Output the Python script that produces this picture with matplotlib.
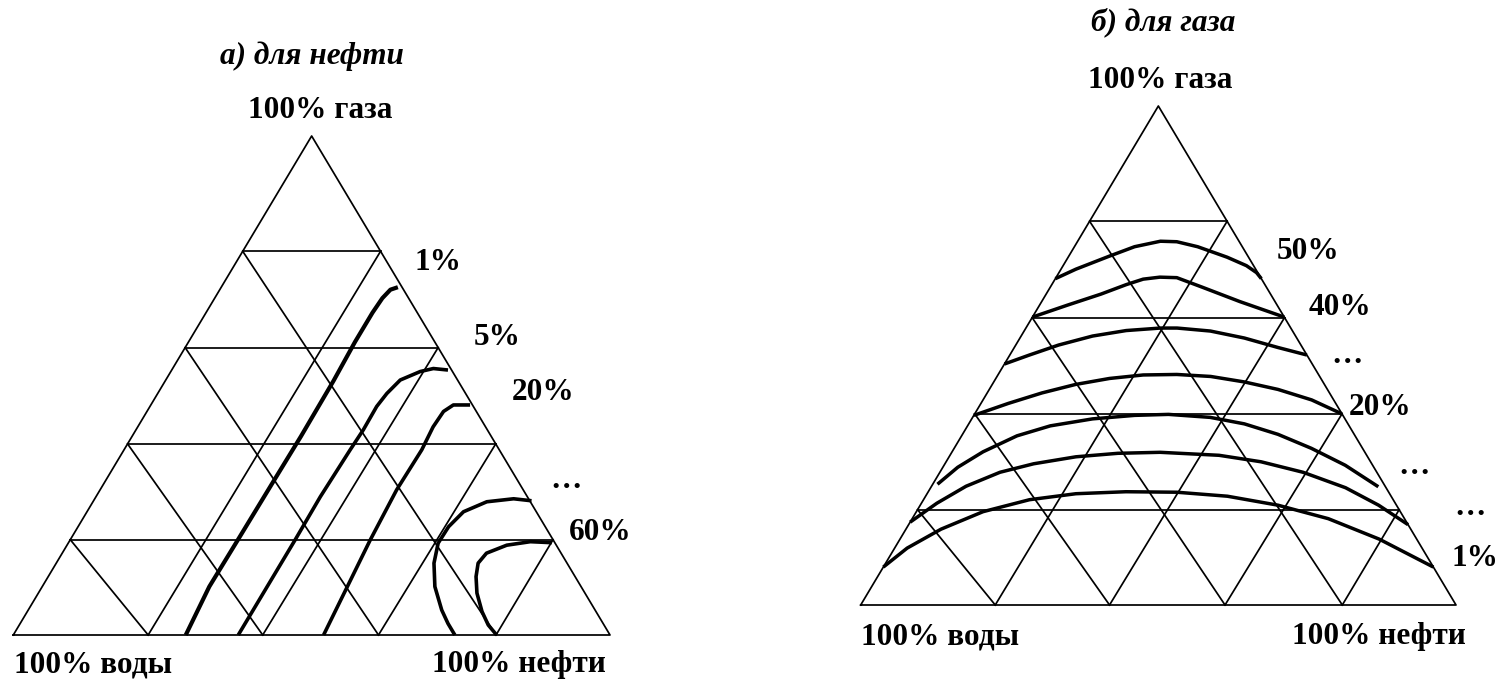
import matplotlib
matplotlib.use("Agg")
import matplotlib.pyplot as plt

# ---- ternary grid: gas share of the horizontal lines, oil share of the base nodes
GAS_LEVELS = [0.191, 0.383, 0.576, 0.769]
OIL_NODES = [0.226, 0.418, 0.612, 0.809]

# ---- a) oil: relative permeability isolines (oil share, gas share), fractions
OIL_1_OIL = [0.296, 0.286, 0.281, 0.279, 0.279, 0.282, 0.283, 0.282, 0.281, 0.280, 0.289]
OIL_1_GAS = [0.697, 0.692, 0.675, 0.646, 0.587, 0.509, 0.398, 0.306, 0.188, 0.097, 0.000]
OIL_5_OIL = [0.463, 0.437, 0.418, 0.393, 0.384, 0.380, 0.381, 0.379, 0.376, 0.377, 0.377]
OIL_5_GAS = [0.531, 0.534, 0.528, 0.511, 0.484, 0.458, 0.411, 0.371, 0.277, 0.190, 0.000]
OIL_20_OIL = [0.535, 0.507, 0.497, 0.495, 0.499, 0.497, 0.503, 0.520]
OIL_20_GAS = [0.461, 0.461, 0.448, 0.417, 0.371, 0.291, 0.190, 0.000]
OIL_X_OIL = [0.734, 0.702, 0.660, 0.631, 0.621, 0.620, 0.633, 0.658, 0.693, 0.717, 0.740]
OIL_X_GAS = [0.269, 0.273, 0.267, 0.247, 0.217, 0.184, 0.144, 0.097, 0.050, 0.023, 0.000]
OIL_60_OIL = [0.810, 0.773, 0.737, 0.711, 0.707, 0.717, 0.735, 0.762, 0.786, 0.810]
OIL_60_GAS = [0.185, 0.187, 0.180, 0.164, 0.144, 0.117, 0.084, 0.047, 0.020, 0.000]

# ---- б) gas: isolines (oil share, gas share), fractions
GAS_50_OIL = [0.000, 0.025, 0.068, 0.101, 0.139, 0.167, 0.207, 0.267, 0.308, 0.332, 0.346]
GAS_50_GAS = [0.654, 0.673, 0.699, 0.718, 0.729, 0.728, 0.718, 0.697, 0.680, 0.666, 0.654]
GAS_40_OIL = [0.000, 0.047, 0.092, 0.125, 0.148, 0.174, 0.203, 0.255, 0.333, 0.423]
GAS_40_GAS = [0.577, 0.601, 0.623, 0.642, 0.653, 0.657, 0.656, 0.637, 0.608, 0.577]
GAS_A_OIL = [0.000, 0.033, 0.072, 0.120, 0.171, 0.226, 0.254, 0.313, 0.377, 0.443, 0.499]
GAS_A_GAS = [0.483, 0.501, 0.521, 0.539, 0.550, 0.555, 0.555, 0.549, 0.535, 0.516, 0.501]
GAS_20_OIL = [0.000, 0.046, 0.092, 0.140, 0.191, 0.244, 0.300, 0.359, 0.421, 0.485, 0.552, 0.617]
GAS_20_GAS = [0.380, 0.404, 0.425, 0.442, 0.454, 0.461, 0.462, 0.458, 0.447, 0.432, 0.411, 0.383]
GAS_B_OIL = [0.008, 0.025, 0.052, 0.093, 0.139, 0.203, 0.270, 0.326, 0.399, 0.463, 0.530, 0.600, 0.674, 0.751]
GAS_B_GAS = [0.242, 0.276, 0.307, 0.339, 0.359, 0.373, 0.380, 0.382, 0.376, 0.363, 0.342, 0.314, 0.280, 0.237]
GAS_C_OIL = [0.000, 0.026, 0.058, 0.101, 0.149, 0.213, 0.280, 0.350, 0.452, 0.529, 0.610, 0.697, 0.770, 0.839]
GAS_C_GAS = [0.166, 0.204, 0.238, 0.266, 0.283, 0.297, 0.304, 0.306, 0.300, 0.287, 0.266, 0.235, 0.200, 0.161]
GAS_1_OIL = [0.000, 0.021, 0.059, 0.112, 0.178, 0.250, 0.332, 0.418, 0.507, 0.601, 0.699, 0.805, 0.924]
GAS_1_GAS = [0.076, 0.114, 0.152, 0.187, 0.211, 0.223, 0.227, 0.226, 0.218, 0.200, 0.173, 0.132, 0.076]

OIL_CURVES = [(OIL_1_OIL, OIL_1_GAS, 3.0), (OIL_5_OIL, OIL_5_GAS, 2.6),
              (OIL_20_OIL, OIL_20_GAS, 2.6), (OIL_X_OIL, OIL_X_GAS, 2.6),
              (OIL_60_OIL, OIL_60_GAS, 2.6)]
GAS_CURVES = [(GAS_50_OIL, GAS_50_GAS), (GAS_40_OIL, GAS_40_GAS), (GAS_A_OIL, GAS_A_GAS),
              (GAS_20_OIL, GAS_20_GAS), (GAS_B_OIL, GAS_B_GAS), (GAS_C_OIL, GAS_C_GAS),
              (GAS_1_OIL, GAS_1_GAS)]

# curve labels: text, (horizontal position, height) in triangle coordinates, alignment
OIL_LABELS = [("1%", 0.712, 0.747, "center"), ("5%", 0.810, 0.597, "center"),
              ("20%", 0.888, 0.485, "center"), ("\u2026", 0.926, 0.309, "center"),
              ("60%", 0.983, 0.206, "center")]
GAS_LABELS = [("50%", 0.752, 0.709, "center"), ("40%", 0.805, 0.597, "center"),
              ("\u2026", 0.817, 0.501, "center"), ("20%", 0.873, 0.395, "center"),
              ("\u2026", 0.929, 0.277, "center"), ("\u2026", 1.023, 0.196, "center"),
              ("1%", 1.071, 0.094, "right")]

FONT = "Liberation Serif"
FS = 22.5


def to_xy(oil, gas):
    """Ternary (oil, gas) -> cartesian position in a unit-height triangle."""
    x = [o + g / 2.0 for o, g in zip(oil, gas)]
    return x, list(gas)


def draw_grid(ax):
    kw = dict(color="black", lw=1.25, clip_on=False, solid_capstyle="projecting")
    ax.plot([0, 1, 0.5, 0], [0, 0, 1, 0], **kw)
    for t in GAS_LEVELS:
        ax.plot([t / 2, 1 - t / 2], [t, t], **kw)
    n = len(GAS_LEVELS)
    for k in range(n):
        t = GAS_LEVELS[k]
        s = OIL_NODES[k]
        ax.plot([t / 2, s], [t, 0], **kw)  # left side -> base
        tr = GAS_LEVELS[n - 1 - k]
        ax.plot([s, 1 - tr / 2], [0, tr], **kw)  # base -> right side


def setup_axes(fig, left_px, bottom_px, w_px, h_px, W=1504, H=682):
    ax = fig.add_axes([left_px / W, bottom_px / H, w_px / W, h_px / H])
    ax.set_xlim(0, 1)
    ax.set_ylim(0, 1)
    ax.axis("off")
    return ax


def label(ax, x, y, txt, ha="center", italic=False):
    ax.text(x, y, txt, ha=ha, va="center", fontsize=FS, fontfamily=FONT,
            fontweight="bold", fontstyle="italic" if italic else "normal")


fig = plt.figure(figsize=(15.04, 6.82), dpi=100)
fig.patch.set_facecolor("white")

# ---------- a) oil
ax1 = setup_axes(fig, 13.3, 682 - 635, 596.7, 499)
draw_grid(ax1)
for oil, gas, lw in OIL_CURVES:
    x, y = to_xy(oil, gas)
    ax1.plot(x, y, color="black", lw=lw, clip_on=False,
             solid_joinstyle="round", solid_capstyle="butt")
for txt, u, h, ha in OIL_LABELS:
    label(ax1, u, h, txt, ha)
label(ax1, 0.5, 1.160, "а) для нефти", italic=True)
label(ax1, 0.514, 1.052, "100% газа")
label(ax1, 0.134, -0.060, "100% воды")
label(ax1, 0.847, -0.060, "100% нефти")

# ---------- б) gas
ax2 = setup_axes(fig, 860.7, 682 - 605, 595.3, 499)
draw_grid(ax2)
for oil, gas in GAS_CURVES:
    x, y = to_xy(oil, gas)
    ax2.plot(x, y, color="black", lw=2.5, clip_on=False,
             solid_joinstyle="round", solid_capstyle="butt")
for txt, u, h, ha in GAS_LABELS:
    label(ax2, u, h, txt, ha)
label(ax2, 0.508, 1.168, "б) для газа", italic=True)
label(ax2, 0.503, 1.052, "100% газа")
label(ax2, 0.134, -0.064, "100% воды")
label(ax2, 0.870, -0.064, "100% нефти")

fig.savefig("out.png", dpi=100, facecolor="white")
